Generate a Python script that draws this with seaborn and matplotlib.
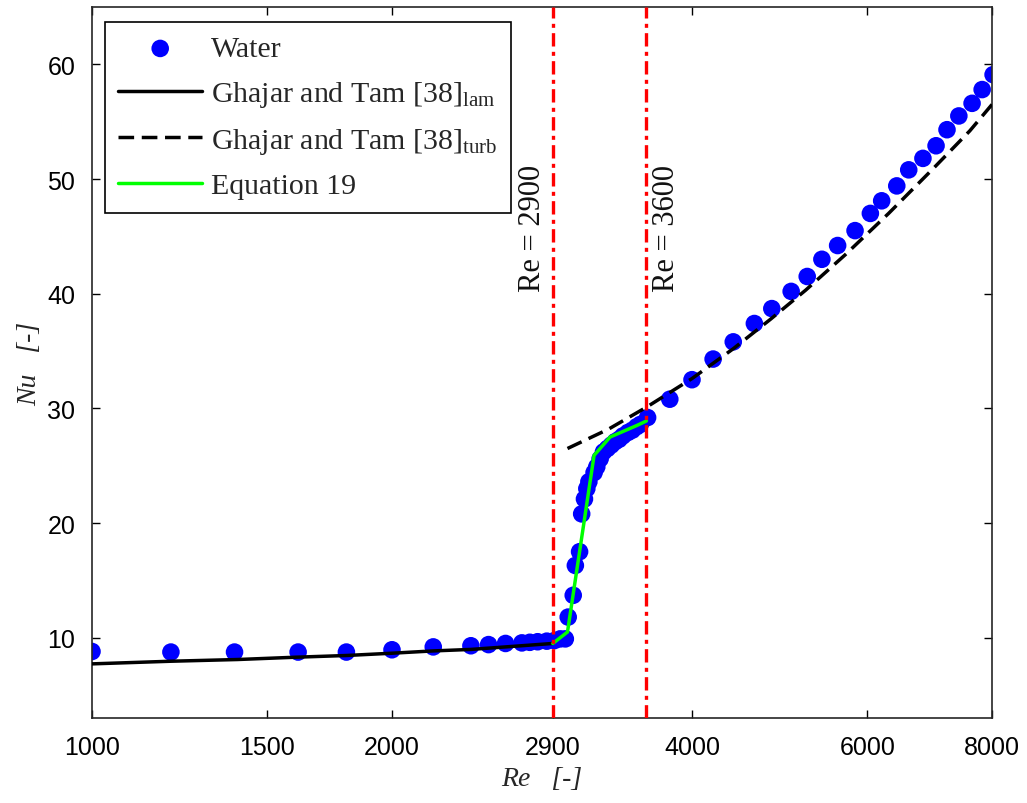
import matplotlib
matplotlib.use("Agg")
import matplotlib.pyplot as plt
import seaborn as sns
import numpy as np
import pandas as pd
from matplotlib.ticker import FixedLocator, FixedFormatter, NullLocator

# ---------------- data ----------------
water_re = [1000, 1200, 1390, 1610, 1800, 2000, 2200, 2400, 2500, 2600, 2700, 2750,
            2800, 2860, 2910, 2950, 2985, 3005, 3040, 3055, 3085, 3100, 3120, 3137,
            3152, 3190, 3210, 3235, 3260, 3290, 3320, 3350, 3380, 3410, 3450, 3485,
            3520, 3550, 3610, 3800, 4000, 4200, 4400, 4620, 4810, 5030, 5220, 5400,
            5600, 5830, 6040, 6200, 6420, 6600, 6820, 7030, 7210, 7410, 7640, 7820, 8020]
water_nu = [8.8, 8.75, 8.75, 8.75, 8.75, 8.95, 9.2, 9.3, 9.4, 9.5, 9.55, 9.6,
            9.65, 9.7, 9.75, 9.9, 9.9, 11.8, 13.7, 16.3, 17.5, 20.8, 22.1, 23.0,
            23.6, 24.4, 24.9, 25.6, 26.2, 26.5, 26.8, 27.1, 27.3, 27.6, 27.9, 28.1,
            28.4, 28.6, 29.2, 30.8, 32.5, 34.3, 35.8, 37.4, 38.7, 40.2, 41.5, 43.0,
            44.2, 45.5, 47.0, 48.1, 49.4, 50.8, 51.8, 52.9, 54.3, 55.5, 56.6, 57.8, 59.1]

lam_re = [1000, 1200, 1400, 1600, 1800, 2000, 2200, 2400, 2600, 2900]
lam_nu = [7.72, 7.95, 8.1, 8.3, 8.45, 8.65, 8.85, 8.98, 9.2, 9.5]

turb_re = [3000, 3300, 3600, 4000, 4400, 4800, 5200, 5700, 6300, 7000, 7600, 8000]
turb_nu = [26.5, 28.2, 30.1, 32.6, 35.2, 37.8, 40.3, 43.4, 47.0, 51.0, 54.2, 56.5]

eq_re = [2900, 3000, 3190, 3310, 3520, 3600]
eq_nu = [9.5, 10.5, 25.9, 27.5, 28.5, 28.9]

vlines_re = [2900, 3600]
vline_labels = ["Re = 2900", "Re = 3600"]
vline_label_x = [2764, 3767]
vline_label_y = 40.2

x_ticks = [1000, 1500, 2000, 2900, 4000, 6000, 8000]
x_tick_labels = ["1000", "1500", "2000", "2900", "4000", "6000", "8000"]
y_ticks = [10, 20, 30, 40, 50, 60]

# ---------------- style ----------------
sns.set_style("white")
plt.rcParams["font.family"] = ["Liberation Serif", "DejaVu Serif"]
plt.rcParams["mathtext.fontset"] = "custom"
plt.rcParams["mathtext.rm"] = "Liberation Serif"
plt.rcParams["mathtext.it"] = "Liberation Serif:italic"

fig = plt.figure(figsize=(10.27, 8.04), dpi=100)
ax = fig.add_axes([92 / 1027, 1 - 719 / 804, 900 / 1027, 711 / 804])

df_w = pd.DataFrame({"Re": water_re, "Nu": water_nu})
df_l = pd.DataFrame({"Re": lam_re, "Nu": lam_nu})
df_t = pd.DataFrame({"Re": turb_re, "Nu": turb_nu})
df_e = pd.DataFrame({"Re": eq_re, "Nu": eq_nu})

sns.scatterplot(data=df_w, x="Re", y="Nu", ax=ax, color="#0000FF", s=160,
                edgecolor="none", label="Water", zorder=2)
sns.lineplot(data=df_l, x="Re", y="Nu", ax=ax, color="black", lw=2.5,
             label=r"Ghajar and Tam [38]$_{\mathrm{lam}}$", zorder=3, sort=False)
sns.lineplot(data=df_t, x="Re", y="Nu", ax=ax, color="black", lw=2.5,
             linestyle=(0, (4.5, 2.2)),
             label=r"Ghajar and Tam [38]$_{\mathrm{turb}}$", zorder=3, sort=False)
sns.lineplot(data=df_e, x="Re", y="Nu", ax=ax, color="#00FF00", lw=2.5,
             label="Equation 19", zorder=4, sort=False)

for xr in vlines_re:
    ax.axvline(xr, color="red", lw=2.4, linestyle=(0, (4, 1.6, 1.2, 1.6)), zorder=5)

for xl, txt in zip(vline_label_x, vline_labels):
    ax.text(xl, vline_label_y, txt, rotation=90, ha="center", va="bottom",
            fontsize=22, family="Liberation Serif", color="#111111")

ax.set_xscale("log")
ax.set_xlim(1000, 8000)
ax.set_ylim(3, 65)
ax.xaxis.set_major_locator(FixedLocator(x_ticks))
ax.xaxis.set_major_formatter(FixedFormatter(x_tick_labels))
ax.xaxis.set_minor_locator(NullLocator())
ax.set_yticks(y_ticks)
ax.yaxis.set_minor_locator(NullLocator())

for lab in ax.get_xticklabels() + ax.get_yticklabels():
    lab.set_family("Liberation Sans")
    lab.set_fontsize(18)

ax.tick_params(direction="in", length=6, width=1, top=True, right=True,
               bottom=True, left=True, pad=12, colors="black")
for sp in ax.spines.values():
    sp.set_visible(True)
    sp.set_color("#262626")
    sp.set_linewidth(1.2)

ax.set_xlabel("Re   [-]", fontsize=20, labelpad=5, style="italic",
              family="Liberation Serif")
ax.set_ylabel("Nu   [-]", fontsize=20, labelpad=4, style="italic",
              family="Liberation Serif")

leg = ax.legend(loc="upper left", bbox_to_anchor=(0.0144, 0.979), borderaxespad=0,
                fancybox=False, frameon=True, handlelength=2.8,
                handletextpad=0.3, labelspacing=0.56, borderpad=0.45,
                prop={"family": "Liberation Serif", "size": 21.5})
leg.get_frame().set_edgecolor("black")
leg.get_frame().set_linewidth(1.2)
leg.get_frame().set_alpha(1)

fig.savefig("out.png", dpi=100)
